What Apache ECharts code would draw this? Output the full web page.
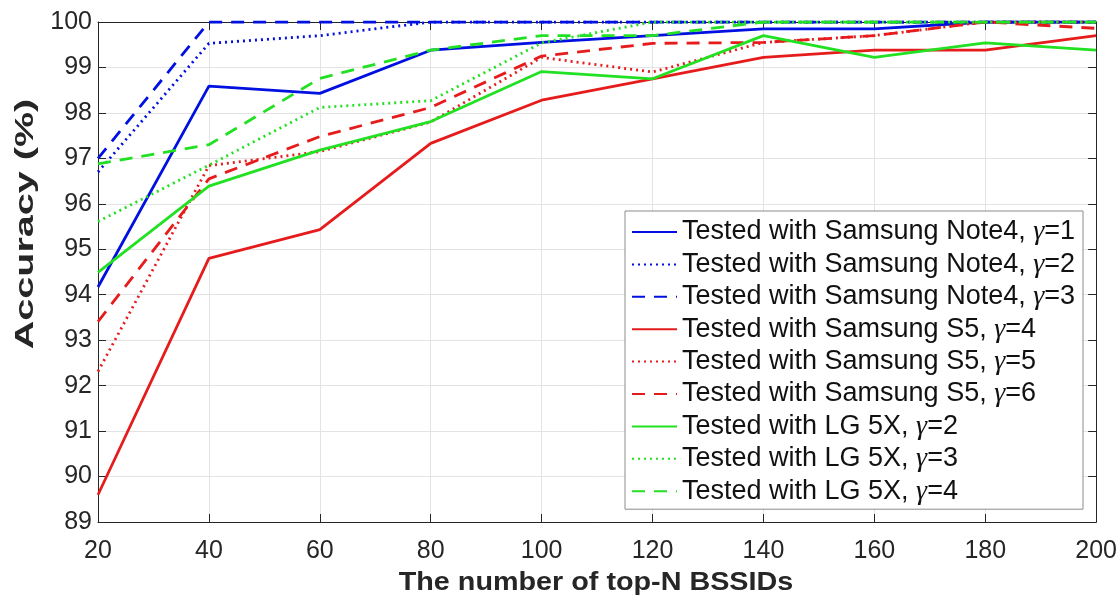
<!DOCTYPE html>
<html>
<head>
<meta charset="utf-8">
<script src="https://cdn.jsdelivr.net/npm/echarts@6/dist/echarts.min.js"></script>
<style>html,body{margin:0;padding:0;background:#fff}#c{width:1120px;height:599px}</style>
</head>
<body>
<div id="c"></div>
<script>
const xValues = [20, 40, 60, 80, 100, 120, 140, 160, 180, 200];
const note4_g1 = [94.17, 98.59, 98.43, 99.38, 99.55, 99.70, 99.85, 99.85, 100, 100];
const note4_g2 = [96.70, 99.53, 99.70, 100, 100, 100, 100, 100, 100, 100];
const note4_g3 = [97.00, 100, 100, 100, 100, 100, 100, 100, 100, 100];
const s5_g4 = [89.60, 94.80, 95.43, 97.33, 98.28, 98.75, 99.22, 99.38, 99.38, 99.70];
const s5_g5 = [92.31, 96.84, 97.15, 97.80, 99.22, 98.90, 99.55, 99.70, 100, 100];
const s5_g6 = [93.41, 96.55, 97.48, 98.12, 99.25, 99.53, 99.55, 99.70, 100, 99.86];
const lg_g2 = [94.49, 96.39, 97.18, 97.81, 98.91, 98.75, 99.70, 99.22, 99.54, 99.38];
const lg_g3 = [95.61, 96.85, 98.12, 98.27, 99.54, 100, 100, 100, 100, 100];
const lg_g4 = [96.88, 97.30, 98.76, 99.38, 99.70, 99.70, 100, 100, 100, 100];
const yTicks = [89, 90, 91, 92, 93, 94, 95, 96, 97, 98, 99, 100];
const xTitle = 'The number of top-N BSSIDs';
const yTitle = 'Accuracy (%)';

const BLUE = '#0010e0', RED = '#e61c1c', GREEN = '#22e022';
const DOT = [2, 4], DASH = [13, 9];
const defs = [
  ['Tested with Samsung Note4, γ=1', note4_g1, BLUE, 'solid'],
  ['Tested with Samsung Note4, γ=2', note4_g2, BLUE, DOT],
  ['Tested with Samsung Note4, γ=3', note4_g3, BLUE, DASH],
  ['Tested with Samsung S5, γ=4', s5_g4, RED, 'solid'],
  ['Tested with Samsung S5, γ=5', s5_g5, RED, DOT],
  ['Tested with Samsung S5, γ=6', s5_g6, RED, DASH],
  ['Tested with LG 5X, γ=2', lg_g2, GREEN, 'solid'],
  ['Tested with LG 5X, γ=3', lg_g3, GREEN, DOT],
  ['Tested with LG 5X, γ=4', lg_g4, GREEN, DASH]
];
const FONT = '"Liberation Sans", Arial, Helvetica, sans-serif';
const series = defs.map(d => ({
  name: d[0], type: 'line', symbol: 'none', animation: false,
  data: xValues.map((x, i) => [x, d[1][i]]),
  color: d[2],
  itemStyle: { color: d[2] },
  lineStyle: { color: d[2], width: 2.8, type: d[3] }
}));

const axisCommon = {
  axisLine: { show: true, lineStyle: { color: '#262626', width: 1 } },
  axisTick: { show: true, inside: true, length: 8, lineStyle: { color: '#262626' } }
};

const chart = echarts.init(document.getElementById('c'), null, { renderer: 'canvas' });
chart.setOption({
  backgroundColor: '#fff',
  animation: false,
  grid: { left: 98, right: 22, top: 22, bottom: 77, containLabel: false },
  xAxis: [
    Object.assign({
      type: 'value', min: 20, max: 200, interval: 20, position: 'bottom',
      axisLabel: { fontFamily: FONT, fontSize: 25, color: '#262626', margin: 17 },
      splitLine: { show: true, lineStyle: { color: '#e3e3e3', width: 1 } }
    }, axisCommon),
    Object.assign({
      type: 'value', min: 20, max: 200, interval: 20, position: 'top',
      axisLabel: { show: false }, splitLine: { show: false }
    }, axisCommon)
  ],
  yAxis: [
    Object.assign({
      type: 'value', min: 89, max: 100, interval: 1, position: 'left',
      axisLabel: { fontFamily: FONT, fontSize: 25, color: '#262626', margin: 6,
        formatter: v => yTicks.includes(v) ? String(v) : '' },
      splitLine: { show: true, lineStyle: { color: '#e3e3e3', width: 1 } }
    }, axisCommon),
    Object.assign({
      type: 'value', min: 89, max: 100, interval: 1, position: 'right',
      axisLabel: { show: false }, splitLine: { show: false }
    }, axisCommon)
  ],
  graphic: [
    { type: 'text', x: 596, y: 583, scaleX: 1.15, silent: true,
      style: { text: xTitle, font: 'bold 25px ' + FONT, fill: '#262626', align: 'center', verticalAlign: 'middle' } },
    { type: 'text', x: 26, y: 224, rotation: Math.PI / 2, scaleX: 1.52, silent: true,
      style: { text: yTitle, font: 'bold 26px ' + FONT, fill: '#262626', align: 'center', verticalAlign: 'middle' } }
  ],
  legend: {
    show: true,
    orient: 'vertical', left: 625, top: 211,
    backgroundColor: '#fff', borderColor: '#8c8c8c', borderWidth: 1, borderRadius: 0,
    padding: [7, 8, 4, 6],
    itemWidth: 45, itemHeight: 20, itemGap: 4.4,
    itemStyle: { opacity: 0 },
    data: defs.map(d => d[0]),
    formatter: n => n.replace('γ', '{g|γ}'),
    textStyle: {
      fontFamily: FONT, fontSize: 27, lineHeight: 26, color: '#111',
      rich: { g: { fontFamily: '"Liberation Serif", "DejaVu Serif", serif', fontStyle: 'italic', fontSize: 28, lineHeight: 26, color: '#111' } }
    },
    selectedMode: false
  },
  series: series
});
</script>
</body>
</html>
